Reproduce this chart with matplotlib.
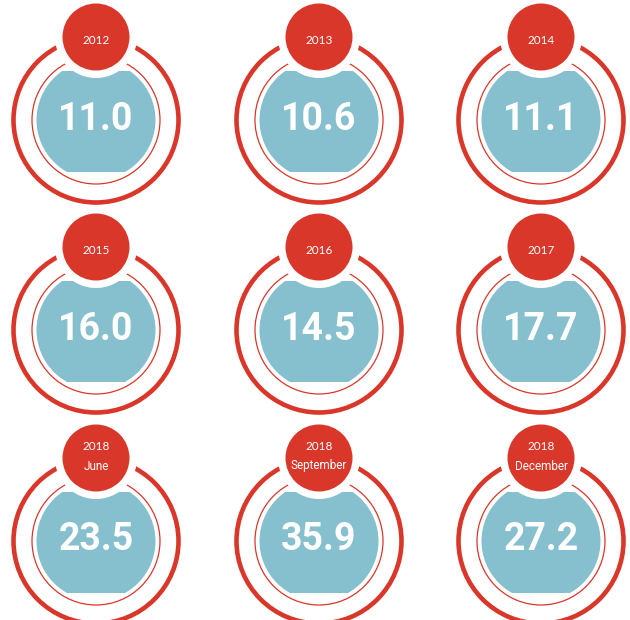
import matplotlib.pyplot as plt
from matplotlib.patches import Circle, Rectangle

# data
years = ["2012", "2013", "2014", "2015", "2016", "2017", "2018", "2018", "2018"]
months = ["", "", "", "", "", "", "June", "September", "December"]
values = [11.0, 10.6, 11.1, 16.0, 14.5, 17.7, 23.5, 35.9, 27.2]

RED = "#d9372a"
BLUE = "#86bfcd"

# layout in pixels
col_x = [96, 319, 541]
row_y = [120, 330, 541]
R_OUT = 82.5
R_IN = 64
R_BLUE = 59.5
R_BADGE = 33.5
R_HALO = 41

fig = plt.figure(figsize=(6.3, 6.2), dpi=100)
ax = fig.add_axes([0, 0, 1, 1])
ax.set_xlim(0, 630)
ax.set_ylim(620, 0)
ax.axis("off")

for i in range(len(values)):
    cx = col_x[i % 3]
    cy = row_y[i // 3]
    bx, by = cx, cy - 83

    # blue disc with flat top and bottom
    blue = Circle((cx, cy), R_BLUE, color=BLUE, lw=0, zorder=1)
    ax.add_patch(blue)
    clip = Rectangle((cx - 70, cy - 49), 140, 101, transform=ax.transData)
    blue.set_clip_path(clip)

    # rings
    ax.add_patch(Circle((cx, cy), R_IN, fill=False, ec=RED, lw=0.9, zorder=2))
    ax.add_patch(Circle((cx, cy), R_OUT, fill=False, ec=RED, lw=3.3, zorder=2))

    # white halo + red badge
    ax.add_patch(Circle((bx, by), R_HALO, color="white", lw=0, zorder=3))
    ax.add_patch(Circle((bx, by), R_BADGE, color=RED, lw=0, zorder=4))

    if months[i]:
        ax.text(bx, by - 11, years[i], color="white", fontsize=8.5,
                family=["Lato", "DejaVu Sans"], ha="center", va="center", zorder=6)
        ax.text(bx, by + 8, months[i], color="white", fontsize=8.5,
                family=["Roboto", "DejaVu Sans"], ha="center", va="center", zorder=6)
    else:
        ax.text(bx, by + 4, years[i], color="white", fontsize=8.5,
                family=["Lato", "DejaVu Sans"], ha="center", va="center", zorder=6)

    ax.text(cx, cy - 1, "%.1f" % values[i], color="white", fontsize=27, fontweight="bold",
            family=["Roboto", "DejaVu Sans"], ha="center", va="center", zorder=6)

fig.savefig("out.png", dpi=100)
